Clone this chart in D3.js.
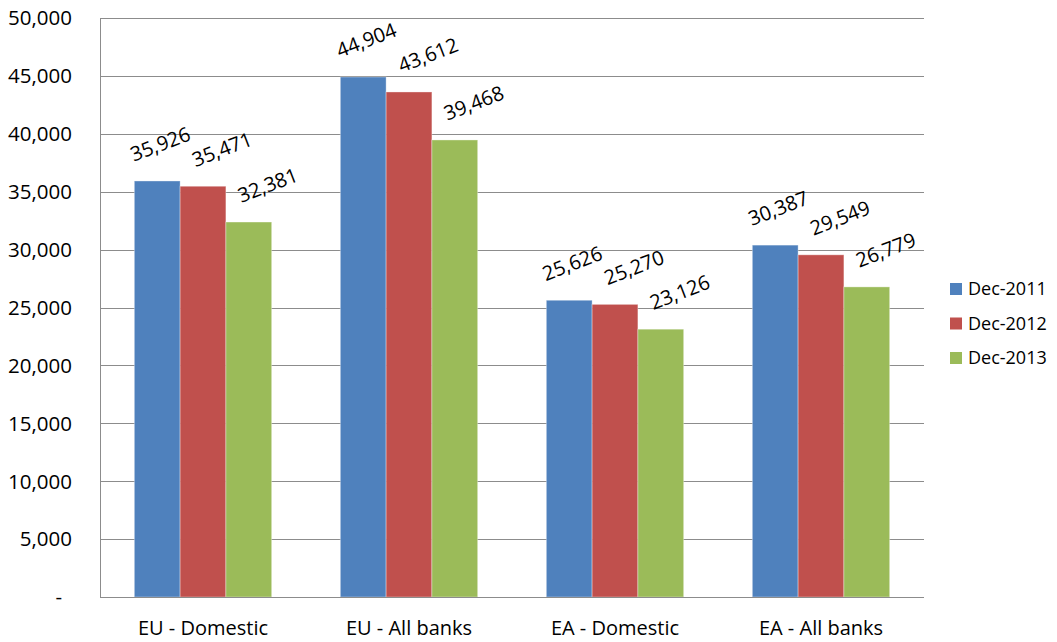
<!DOCTYPE html>
<html>
<head>
<meta charset="utf-8">
<script src="https://cdn.jsdelivr.net/npm/d3@7"></script>
<style>
  body { margin: 0; background: #fff; }
  svg { font-family: "Open Sans", sans-serif; }
</style>
</head>
<body>
<svg id="chart" width="1057" height="642"></svg>
<script>
let categories = ["EU - Domestic", "EU - All banks", "EA - Domestic", "EA - All banks"];
let seriesNames = ["Dec-2011", "Dec-2012", "Dec-2013"];
let dec2011 = [35926, 44904, 25626, 30387];
let dec2012 = [35471, 43612, 25270, 29549];
let dec2013 = [32381, 39468, 23126, 26779];
let yTicks = [0, 5000, 10000, 15000, 20000, 25000, 30000, 35000, 40000, 45000, 50000];

let seriesValues = [dec2011, dec2012, dec2013];
let colors = ["#4F81BD", "#C0504D", "#9BBB59"];
// excel nudges the rotated labels a bit to the right for 2nd/3rd series
let labelShift = [3, 19, 19];

let svg = d3.select("#chart");
let margin = { left: 100, top: 18, right: 924, bottom: 597 };

// one band per category, gap width 150% -> 3 bars + 1.5 bar of gap
let x0 = d3.scaleBand()
	.domain(categories)
	.range([margin.left, margin.right])
	.padding(0);
let band = x0.bandwidth();
let barW = band / 4.5;

let y = d3.scaleLinear().domain([0, 50000]).range([margin.bottom, margin.top]);

// gridlines
svg.append("g")
	.selectAll("line")
	.data(yTicks)
	.enter()
	.append("line")
	.attr("x1", margin.left)
	.attr("x2", margin.right)
	.attr("y1", (d) => Math.round(y(d)) + 0.5)
	.attr("y2", (d) => Math.round(y(d)) + 0.5)
	.attr("stroke", "#8c8c8c")
	.attr("stroke-width", 1);

// y tick labels
let fmt = d3.format(",");
svg.append("g")
	.selectAll("text")
	.data(yTicks)
	.enter()
	.append("text")
	.attr("x", (d) => (d === 0 ? 62 : 72))
	.attr("y", (d) => y(d))
	.attr("dy", "0.36em")
	.attr("text-anchor", "end")
	.attr("font-size", "20.5px")
	.attr("fill", "#000")
	.text((d) => (d === 0 ? "-" : fmt(d)));

// bars
let barX = function (cat, si) {
	return x0(cat) + barW * 0.75 + si * barW;
};

seriesValues.forEach(function (vals, si) {
	let g = svg.append("g");
	g.selectAll("rect")
		.data(vals)
		.enter()
		.append("rect")
		.attr("x", (d, i) => barX(categories[i], si))
		.attr("y", (d) => y(d))
		.attr("width", barW)
		.attr("height", (d) => y(0) - y(d))
		.attr("fill", colors[si])
		.attr("stroke", "rgba(255,255,255,0.35)")
		.attr("stroke-width", 1);

	g.selectAll("text")
		.data(vals)
		.enter()
		.append("text")
		.attr("transform", (d, i) => {
			let cx = barX(categories[i], si) + barW / 2 + labelShift[si];
			let cy = y(d) - 37;
			return "translate(" + cx + "," + cy + ") rotate(-21)";
		})
		.attr("text-anchor", "middle")
		.attr("dy", "0.36em")
		.attr("font-size", "20px")
		.attr("fill", "#000")
		.text((d) => fmt(d));
});

// axes lines
svg.append("line")
	.attr("x1", margin.left + 0.5).attr("x2", margin.left + 0.5)
	.attr("y1", margin.top).attr("y2", margin.bottom)
	.attr("stroke", "#8c8c8c");
svg.append("line")
	.attr("x1", margin.left).attr("x2", margin.right)
	.attr("y1", Math.round(y(0)) + 0.5).attr("y2", Math.round(y(0)) + 0.5)
	.attr("stroke", "#8c8c8c");

// category labels
svg.append("g")
	.selectAll("text")
	.data(categories)
	.enter()
	.append("text")
	.attr("x", (d) => x0(d) + band / 2)
	.attr("y", 635)
	.attr("text-anchor", "middle")
	.attr("font-size", "20px")
	.attr("fill", "#000")
	.text((d) => d);

// legend
let legend = svg.append("g")
	.selectAll("g")
	.data(seriesNames)
	.enter()
	.append("g")
	.attr("transform", (d, i) => "translate(950," + (289 + i * 34.5) + ")");
legend.append("rect")
	.attr("x", 0).attr("y", -6)
	.attr("width", 12).attr("height", 12)
	.attr("fill", (d, i) => colors[i]);
legend.append("text")
	.attr("x", 18)
	.attr("dy", "0.36em")
	.attr("font-size", "18px")
	.attr("fill", "#000")
	.text((d) => d);
</script>
</body>
</html>
